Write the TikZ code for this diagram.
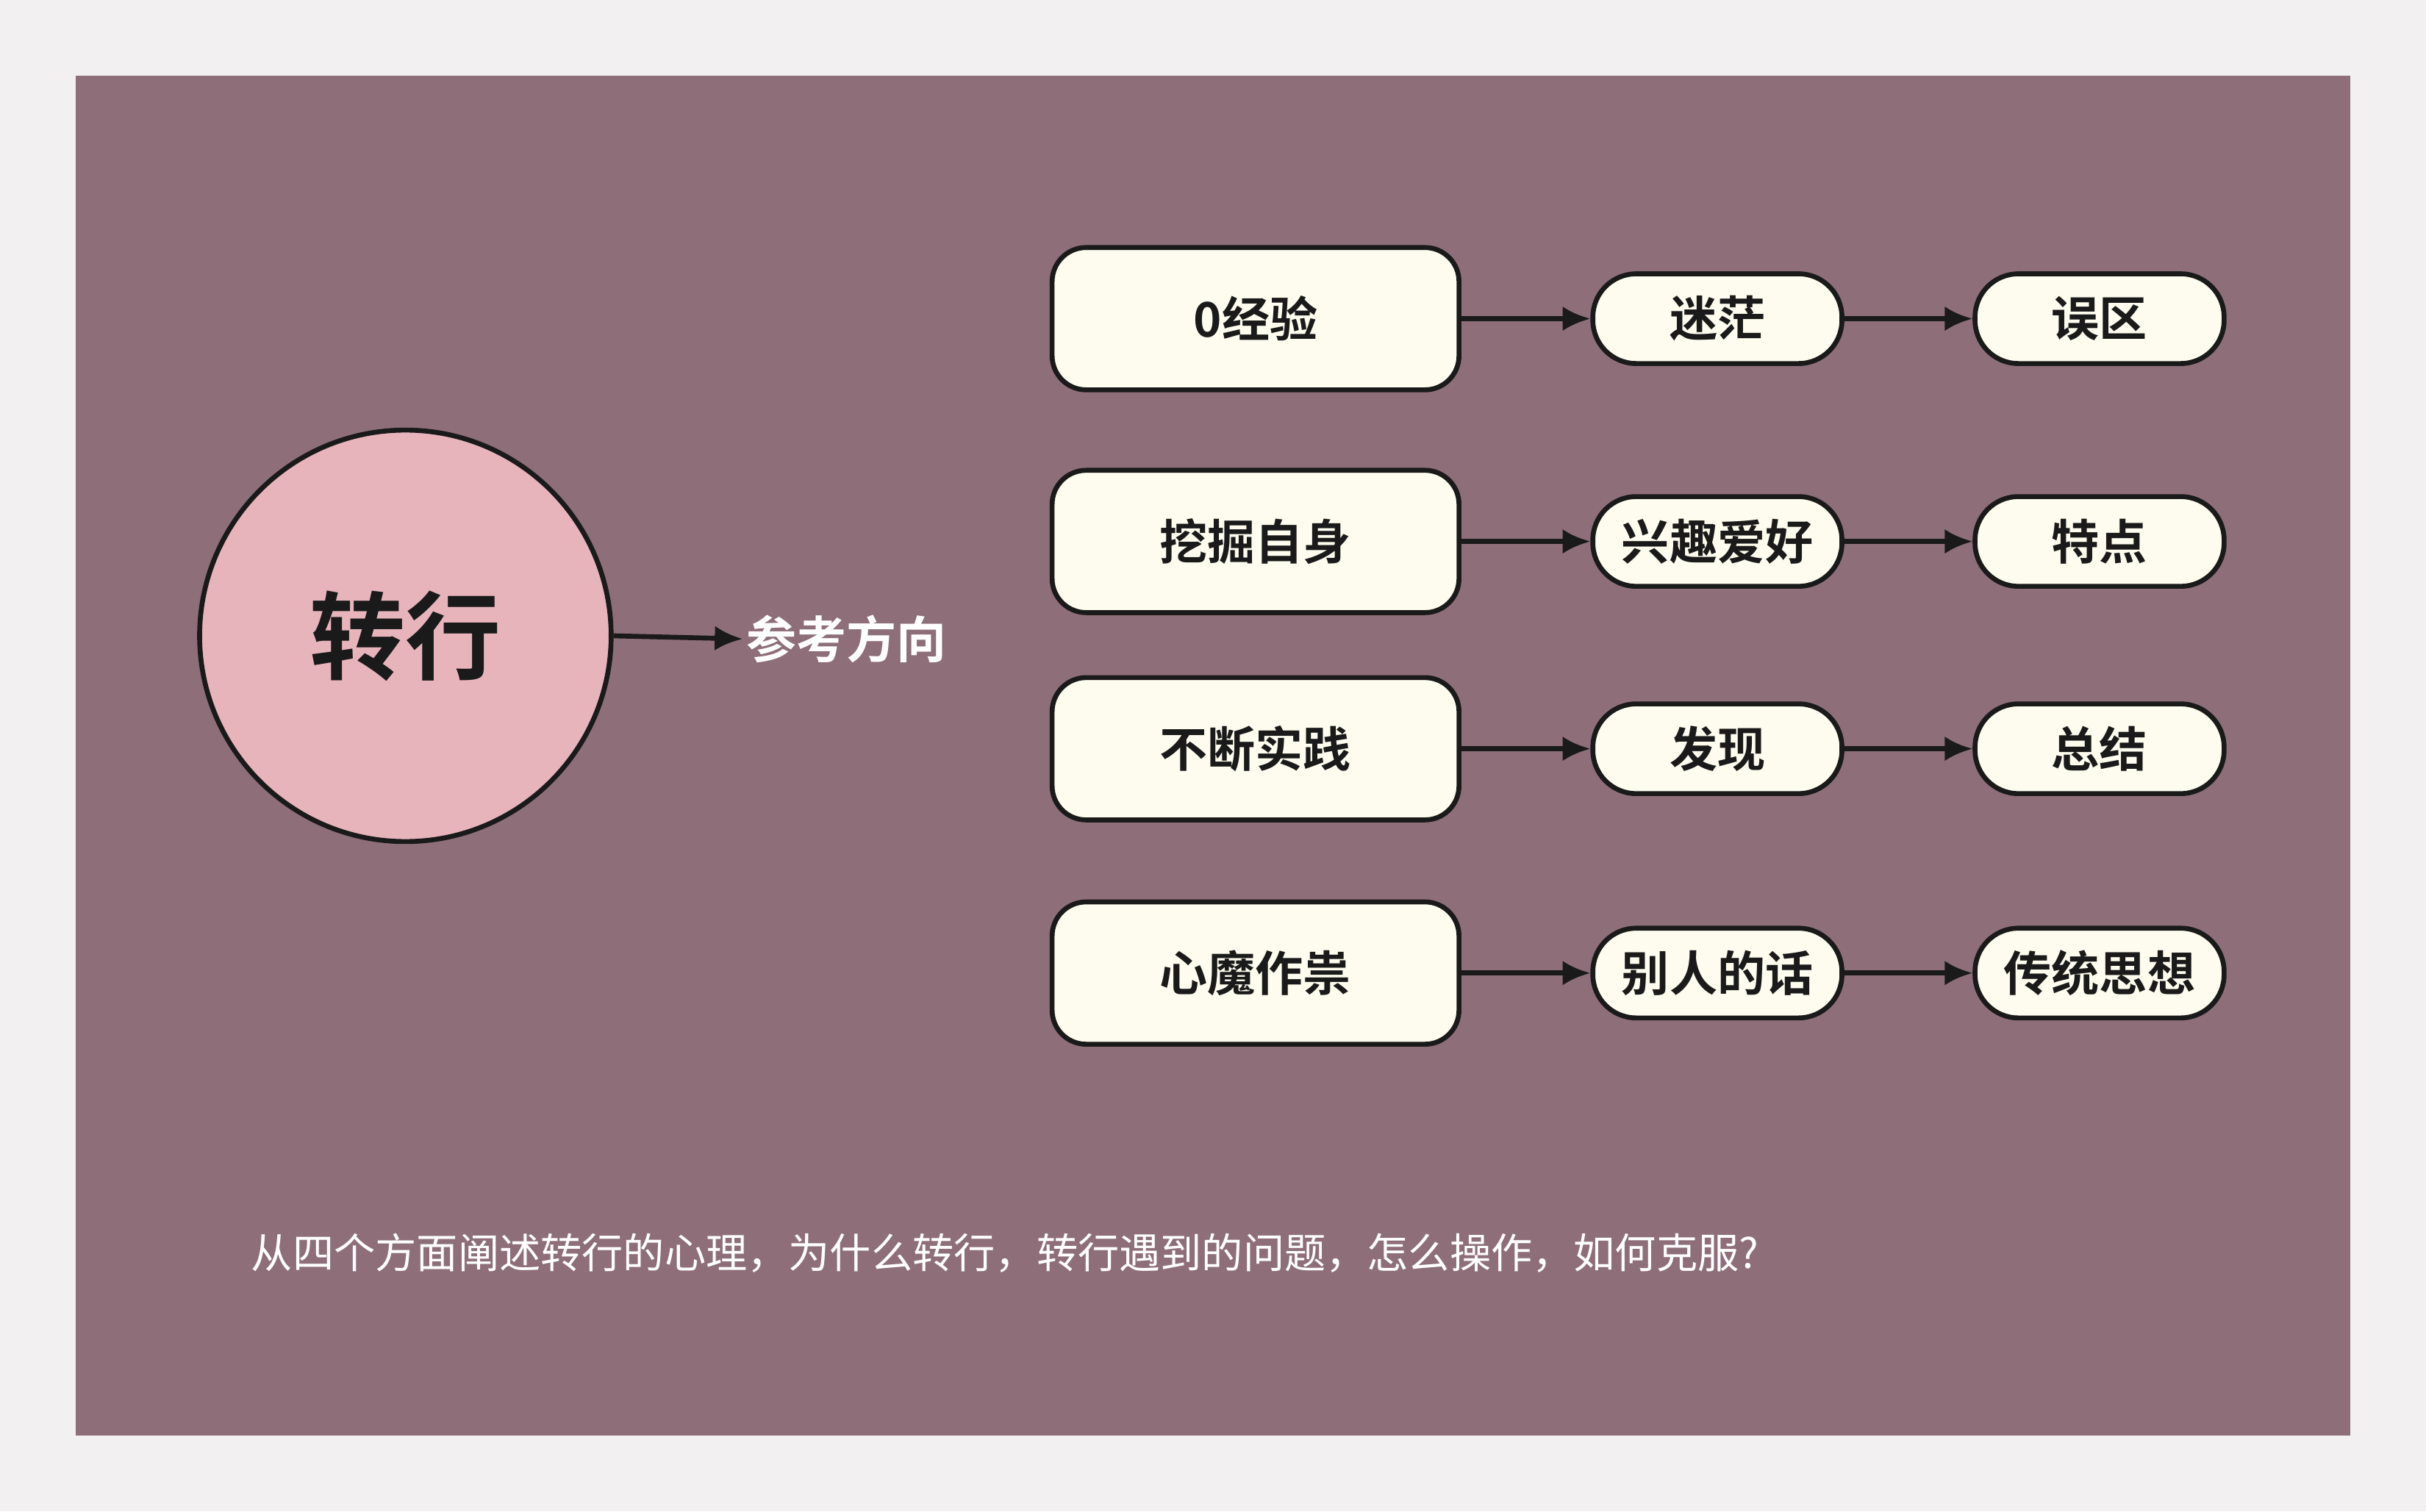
\documentclass[tikz,border=0pt]{standalone}
\usepackage{fontspec}
\setmainfont{Noto Sans CJK SC}
\newfontfamily\cjkb{Noto Sans CJK SC Bold}
\usetikzlibrary{arrows.meta}
\definecolor{bgout}{HTML}{F2F0F1}
\definecolor{panel}{HTML}{8E6F79}
\definecolor{pinkc}{HTML}{E8B4BC}
\definecolor{boxf}{HTML}{FDFCEE}
\definecolor{ink}{HTML}{1A1A1A}
\tikzset{
  px/.style={},
  bigbox/.style={draw=ink,line width=4.5pt,fill=boxf,rounded corners=1.1cm,minimum width=13.15cm,minimum height=4.6cm,font=\cjkb\fontsize{44}{50}\selectfont,text=ink},
  smallbox/.style={draw=ink,line width=4.5pt,fill=boxf,rounded corners=1.4cm,minimum width=8.05cm,minimum height=2.9cm,font=\cjkb\fontsize{44}{50}\selectfont,text=ink},
  conn/.style={-{Latex[length=0.9cm,width=0.8cm]},line width=4.5pt,draw=ink}
}
\begin{document}
\begin{tikzpicture}[x=0.05cm,y=-0.05cm]
\fill[bgout] (0,0) rectangle (1568,977);
\useasboundingbox (0,0) rectangle (1568,977);
\fill[panel] (49,49) rectangle (1519,928);
\node[circle,draw=ink,line width=4.5pt,fill=pinkc,minimum size=13.3cm,font=\cjkb\fontsize{88}{96}\selectfont,text=ink] (c) at (262,411) {转行};
\node[font=\cjkb\fontsize{46}{52}\selectfont,text=white,anchor=west] (dir) at (480,413) {参考方向};
\draw[conn] (c.east) -- (dir.west);
\foreach \n/\y/\a/\b/\cc in {1/206/0经验/迷茫/误区, 2/350/挖掘自身/兴趣爱好/特点, 3/484/不断实践/发现/总结, 4/629/心魔作祟/别人的话/传统思想}{
  \node[bigbox] (a\n) at (811.5,\y) {\a};
  \node[smallbox] (b\n) at (1110,\y) {\b};
  \node[smallbox] (d\n) at (1357,\y) {\cc};
  \draw[conn] (a\n.east) -- (b\n.west);
  \draw[conn] (b\n.east) -- (d\n.west);
}
\node[anchor=west,text=white,font=\fontsize{38}{44}\selectfont] (note) at (160,810) {从四个方面阐述转行的心理，为什么转行，转行遇到的问题，怎么操作，如何克服?};
\end{tikzpicture}
\end{document}
